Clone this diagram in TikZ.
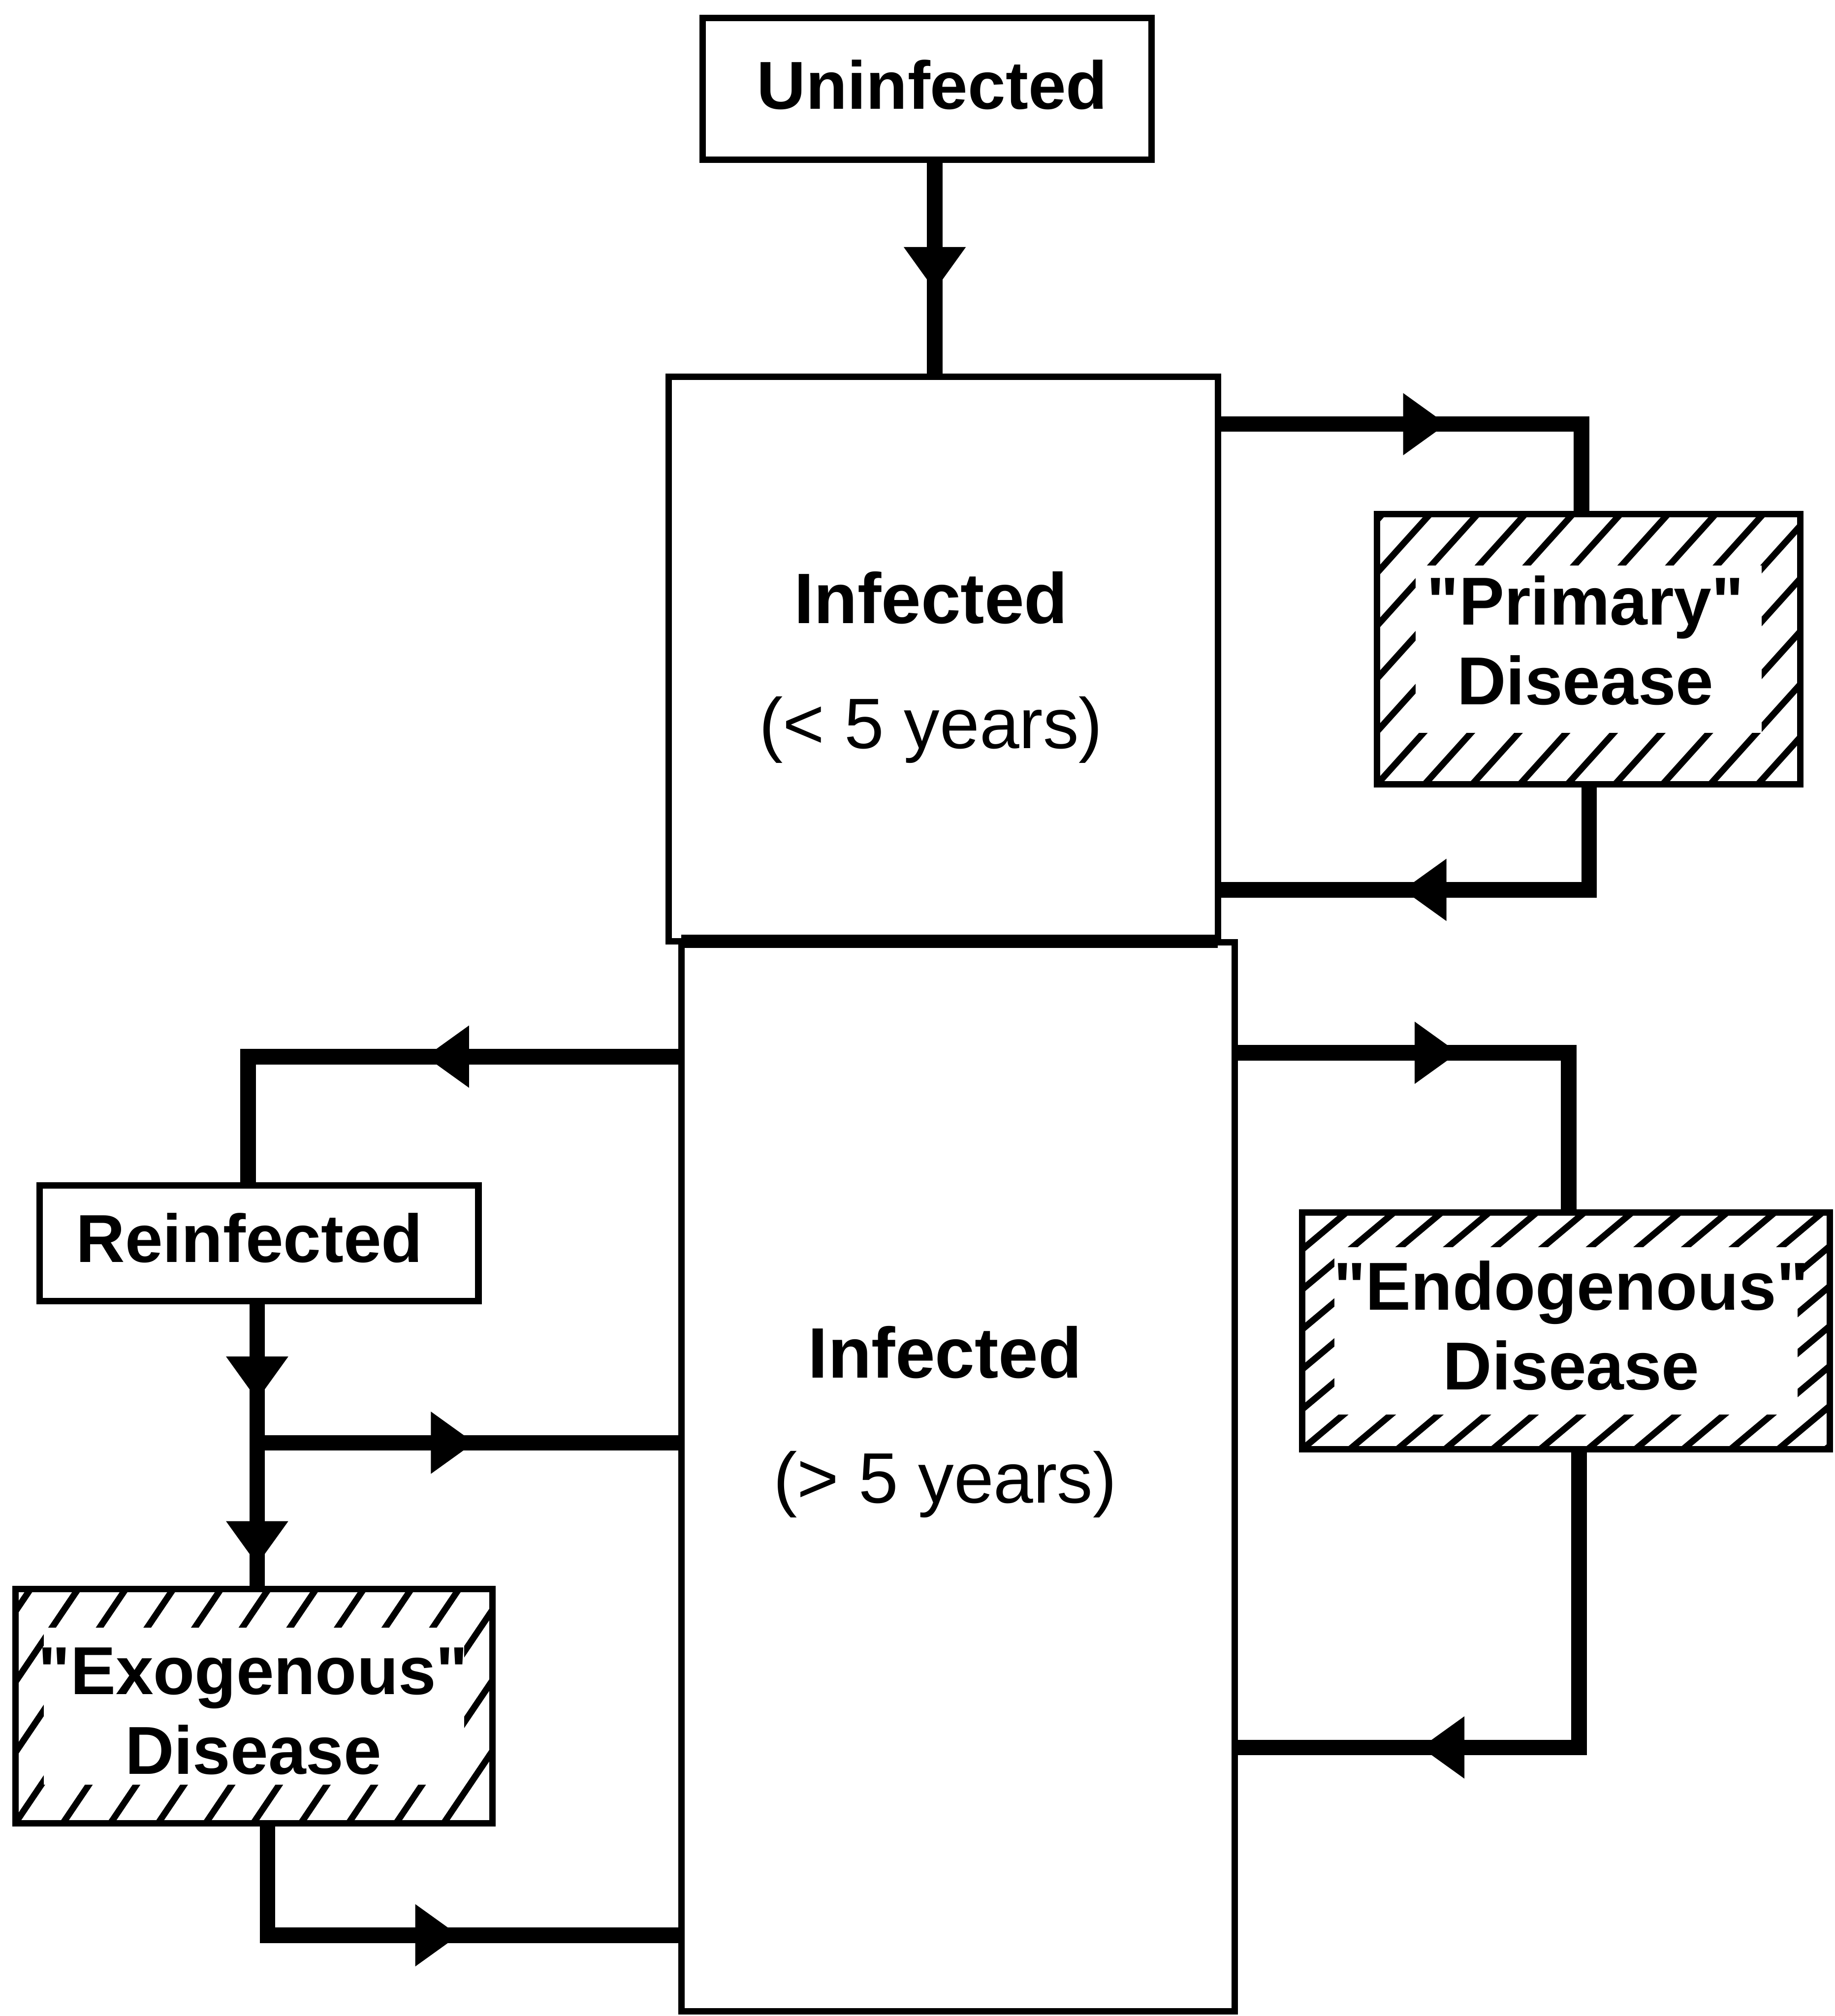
\documentclass[tikz,border=0pt]{standalone}
\usepackage{fontspec}
\setmainfont{Liberation Sans}[Ligatures=TeXOff]
\usetikzlibrary{arrows.meta,decorations.markings}
\tikzset{
  arr/.tip={Triangle[length=0.34cm,width=0.46cm]},
  box/.style={draw, line width=0.05cm, inner sep=0pt, outer sep=0pt},
  lbl/.style={align=center, inner sep=0pt, font=\fontsize{15}{17.6}\selectfont\bfseries},
  txt/.style={align=center, inner sep=0pt, font=\fontsize{15.8}{27.6}\selectfont},
  hatchbox/.style n args={3}{box, path picture={
      \foreach \k in {-12,...,14}
        \draw[line width=0.05cm, line cap=round]
          ([xshift=\k*0.37cm]path picture bounding box.south west) -- ++(#1:4.5cm);
      \fill[white] ([shift={(#2,#3)}]path picture bounding box.south west)
        rectangle ([shift={(-#2,-#3)}]path picture bounding box.north east);
  }},
  conn/.style={line width=0.12cm, line join=miter},
  oneArrow/.style={postaction={decorate}, decoration={markings,
      mark=at position #1 with {\arrow{arr}}}},
  twoArrows/.style 2 args={postaction={decorate}, decoration={markings,
      mark=at position #1 with {\arrow{arr}},
      mark=at position #2 with {\arrow{arr}}}},
}
\begin{document}
\begin{tikzpicture}[x=0.01cm,y=-0.01cm]
\fill[white] (0,0) rectangle (1427,1568);
\useasboundingbox (0,0) rectangle (1427,1568);

% boxes
\node[box, minimum width=3.49cm, minimum height=1.10cm] (unin) at (721,69) {};
\node[lbl] (unint) at (725,66) {Uninfected};
\node[box, minimum width=4.27cm, minimum height=4.39cm] (inf1) at (733.5,512.5) {};
\node[box, minimum width=4.30cm, minimum height=8.31cm] (inf2) at (745,1148.5) {};
\node[txt] (inf1t) at (724,519) {\textbf{Infected}\\(< 5 years)};
\node[txt] (inf2t) at (735,1106) {\textbf{Infected}\\(> 5 years)};
\draw[line width=0.10cm] (inf1.south west -| inf2.west) -- (inf1.south east);

\node[hatchbox={48}{0.30cm}{0.40cm}, minimum width=3.29cm, minimum height=2.10cm] (prim) at (1235.5,505) {};
\node[lbl] (primt) at (1233,498) {"Primary"\\Disease};
\node[hatchbox={40}{0.25cm}{0.27cm}, minimum width=4.10cm, minimum height=1.84cm] (endo) at (1218,1035) {};
\node[lbl] (endot) at (1222,1031) {"Endogenous"\\Disease};
\node[box, minimum width=3.41cm, minimum height=0.90cm] (rein) at (201.5,967) {};
\node[lbl] (reint) at (194,963) {Reinfected};
\node[hatchbox={56}{0.22cm}{0.30cm}, minimum width=3.71cm, minimum height=1.82cm] (exo) at (197.5,1327) {};
\node[lbl] (exot) at (197,1331) {"Exogenous"\\Disease};

% connectors
\coordinate (u1) at ([xshift=0.06cm]unin.south);
\draw[conn, oneArrow=1.02cm] (u1) -- (u1 |- inf1.north);

\coordinate (a1) at ([yshift=-0.37cm]inf1.north east);
\coordinate (p1) at ([xshift=-0.055cm]prim.north);
\draw[conn, oneArrow=1.78cm] (a1) -| (p1);

\coordinate (p2) at ([xshift=0.005cm]prim.south);
\coordinate (a2) at ([yshift=0.40cm]inf1.south east);
\draw[conn, oneArrow=2.27cm] (p2) |- (a2);

\coordinate (b1) at ([yshift=-0.86cm]inf2.north east);
\coordinate (e1) at ([xshift=0.02cm]endo.north);
\draw[conn, oneArrow=1.74cm] (b1) -| (e1);

\coordinate (e2) at ([xshift=0.10cm]endo.south);
\coordinate (b2) at ([yshift=-6.26cm]inf2.north east);
\draw[conn, oneArrow=3.55cm] (e2) |- (b2);

\coordinate (c1) at ([yshift=-0.89cm]inf2.north west);
\coordinate (r1) at ([xshift=-0.085cm]rein.north);
\draw[conn, oneArrow=1.99cm] (c1) -| (r1);

\coordinate (r2) at ([xshift=-0.015cm]rein.south);
\draw[conn, twoArrows={0.77cm}{2.05cm}] (r2) -- (r2 |- exo.north);
\coordinate (br) at ([yshift=-1.10cm]r2);
\draw[conn, oneArrow=1.69cm] (br) -- (br -| inf2.west);

\coordinate (x1) at ([xshift=0.105cm]exo.south);
\coordinate (c2) at ([yshift=0.59cm]inf2.south west);
\draw[conn, oneArrow=2.36cm] (x1) |- (c2);
\end{tikzpicture}
\end{document}
